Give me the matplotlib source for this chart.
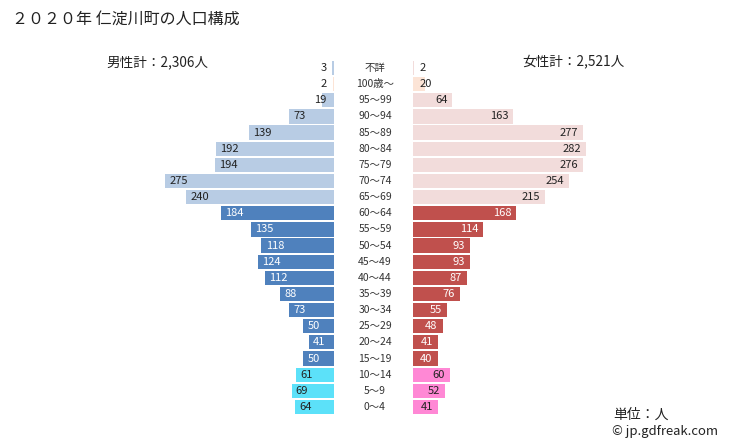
import numpy as np
import matplotlib.pyplot as plt

plt.rcParams['font.family'] = ['Noto Sans CJK JP', 'DejaVu Sans']

# Data
ages = ["不詳", "100歳～", "95～99", "90～94", "85～89", "80～84", "75～79",
        "70～74", "65～69", "60～64", "55～59", "50～54", "45～49", "40～44",
        "35～39", "30～34", "25～29", "20～24", "15～19", "10～14", "5～9", "0～4"]
male = [3, 2, 19, 73, 139, 192, 194, 275, 240, 184, 135, 118, 124, 112,
        88, 73, 50, 41, 50, 61, 69, 64]
female = [2, 20, 64, 163, 277, 282, 276, 254, 215, 168, 114, 93, 93, 87,
          76, 55, 48, 41, 40, 60, 52, 41]

# colours per age group
def male_color(i):
    if i == 1:
        return '#fce4d6'
    if i <= 8:
        return '#b8cce4'
    if i <= 18:
        return '#4f81bd'
    return '#5ce1f9'

def female_color(i):
    if i == 1:
        return '#fce4d6'
    if i <= 8:
        return '#f2dcdb'
    if i <= 18:
        return '#c0504d'
    return '#ff88d5'

W, H = 729, 446
fig = plt.figure(figsize=(W / 100, H / 100), dpi=100)

n = len(ages)
y = np.arange(n)
row_px = 16.14
top_px = 68 - row_px / 2
h_px = row_px * n
scale = 0.615  # px per person
xmax = 300

ax_l = fig.add_axes([(334 - xmax * scale) / W, (H - top_px - h_px) / H,
                     xmax * scale / W, h_px / H])
ax_r = fig.add_axes([413 / W, (H - top_px - h_px) / H,
                     xmax * scale / W, h_px / H])

for ax in (ax_l, ax_r):
    ax.set_ylim(n - 0.5, -0.5)
    ax.set_xlim(0, xmax)
    ax.axis('off')
ax_l.invert_xaxis()

ax_l.barh(y, male, height=0.88, color=[male_color(i) for i in y])
ax_r.barh(y, female, height=0.88, color=[female_color(i) for i in y])

fs = 8
for i in y:
    m = male[i]
    tc = 'white' if 9 <= i <= 18 else '#222222'
    if m < 30:
        ax_l.text(12, i, str(m), ha='right', va='center', fontsize=fs,
                  color='#222222')
    else:
        ax_l.text(m - 7, i, str(m), ha='left', va='center', fontsize=fs,
                  color=tc)
    f = female[i]
    if f < 30:
        ax_r.text(10, i, str(f), ha='left', va='center', fontsize=fs,
                  color='#222222')
    else:
        ax_r.text(f - 8, i, str(f), ha='right', va='center', fontsize=fs,
                  color=tc)
    fig.text(375 / W, 1 - (68 + i * row_px) / H, ages[i], ha='center',
             va='center', fontsize=7.5, color='#333333')

fig.text(12 / W, 1 - 20 / H, "２０２０年 仁淀川町の人口構成", ha='left',
         va='center', fontsize=11.5, color='#222222')
fig.text(157 / W, 1 - 62 / H, "男性計：2,306人", ha='center', va='center',
         fontsize=9.8, color='#222222')
fig.text(573 / W, 1 - 62 / H, "女性計：2,521人", ha='center', va='center',
         fontsize=9.8, color='#222222')
fig.text(613 / W, 1 - 415 / H, "単位：人", ha='left', va='center',
         fontsize=10, color='#222222')
fig.text(612 / W, 1 - 431 / H, "© jp.gdfreak.com", ha='left', va='center',
         fontsize=9.4, color='#222222')

fig.savefig('out.png', dpi=100)
